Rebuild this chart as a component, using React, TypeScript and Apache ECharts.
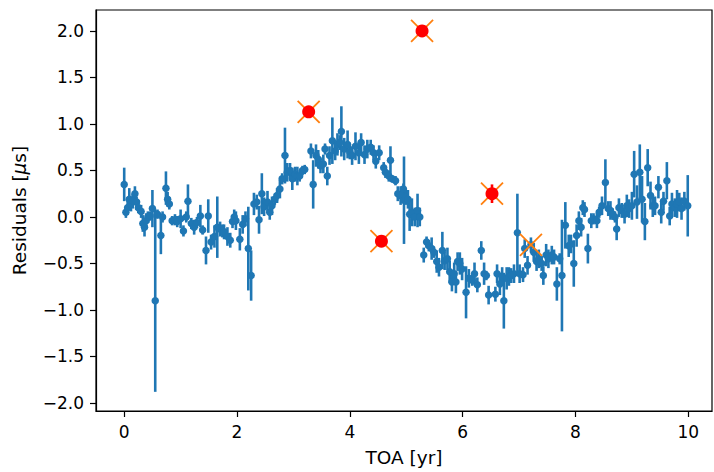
import React, { useEffect, useRef } from "react";
import * as echarts from "echarts";

const toaYr = [
  0.00, 0.03, 0.06, 0.09, 0.12, 0.15, 0.19, 0.22, 0.25, 0.30, 0.33, 0.36, 0.39, 0.42, 0.46, 0.50, 0.55, 0.59, 0.65, 0.68,
  0.74, 0.77, 0.80, 0.85, 0.90, 0.94, 1.00, 1.05, 1.10, 1.13, 1.19, 1.24, 1.29, 1.35, 1.39, 1.45, 1.49, 1.54, 1.60, 1.65,
  1.70, 1.74, 1.77, 1.83, 1.88, 1.92, 1.95, 1.98, 2.05, 2.10, 2.15, 2.20, 2.25, 2.30, 2.35, 2.39, 2.44, 2.48, 2.54, 2.58,
  2.62, 2.67, 2.71, 2.76, 2.80, 2.85, 2.89, 2.94, 2.98, 3.03, 3.07, 3.11, 3.16, 3.20, 3.31, 3.35, 3.40, 3.44, 3.48, 3.53,
  3.56, 3.60, 3.64, 3.69, 3.74, 3.78, 3.82, 3.85, 3.90, 3.96, 4.00, 4.04, 4.10, 4.16, 4.20, 4.26, 4.31, 4.37, 4.42, 4.46,
  4.52, 4.60, 4.63, 4.69, 4.72, 4.75, 4.81, 4.85, 4.90, 4.95, 4.96, 4.99, 5.03, 5.06, 5.10, 5.15, 5.20, 5.24, 5.31, 5.36,
  5.40, 5.45, 5.49, 5.54, 5.58, 5.64, 5.68, 5.73, 5.77, 5.81, 5.85, 5.88, 5.91, 5.95, 5.99, 6.06, 6.11, 6.17, 6.21, 6.26,
  6.33, 6.38, 6.42, 6.46, 6.58, 6.61, 6.66, 6.70, 6.73, 6.78, 6.82, 6.86, 6.91, 6.97, 7.01, 7.07, 7.10, 7.15, 7.21, 7.26,
  7.31, 7.35, 7.40, 7.43, 7.48, 7.52, 7.58, 7.62, 7.67, 7.72, 7.76, 7.82, 7.88, 7.92, 7.97, 8.02, 8.06, 8.10, 8.13, 8.16,
  8.22, 8.28, 8.32, 8.38, 8.42, 8.47, 8.53, 8.58, 8.62, 8.66, 8.70, 8.73, 8.77, 8.82, 8.87, 8.91, 8.95, 9.00, 9.04, 9.09,
  9.14, 9.18, 9.23, 9.28, 9.33, 9.37, 9.41, 9.47, 9.52, 9.56, 9.62, 9.67, 9.71, 9.76, 9.80, 9.84, 9.88, 9.93, 9.99,
];

const residUs = [
  0.35, 0.05, 0.10, 0.19, 0.14, 0.17, 0.25, 0.16, 0.10, 0.06, -0.07, -0.11, -0.04, 0.00, 0.01, 0.09, -0.90, 0.03, -0.20, 0.00,
  0.31, 0.19, 0.14, -0.04, -0.03, -0.05, -0.02, -0.15, 0.00, 0.17, -0.07, -0.11, -0.06, 0.01, -0.14, -0.36, 0.01, -0.27, -0.21, -0.11,
  -0.13, -0.15, -0.16, -0.21, -0.25, -0.05, 0.00, -0.04, -0.24, -0.08, -0.02, -0.34, -0.63, 0.14, 0.16, -0.03, 0.25, 0.11, 0.16, 0.05,
  0.12, 0.19, 0.23, 0.30, 0.41, 0.66, 0.48, 0.50, 0.41, 0.46, 0.44, 0.44, 0.50, 0.51, 0.71, 0.35, 0.66, 0.62, 0.55, 0.57,
  0.73, 0.44, 0.66, 0.82, 0.71, 0.78, 0.80, 0.92, 0.73, 0.78, 0.70, 0.66, 0.76, 0.69, 0.80, 0.67, 0.73, 0.75, 0.69, 0.60,
  0.69, 0.53, 0.48, 0.44, 0.61, 0.41, 0.39, 0.25, 0.23, 0.30, 0.18, 0.21, 0.19, 0.03, 0.05, 0.00, 0.07, 0.00, -0.41, -0.27,
  -0.31, -0.34, -0.38, -0.48, -0.54, -0.36, -0.47, -0.45, -0.59, -0.70, -0.61, -0.70, -0.48, -0.50, -0.56, -0.81, -0.66, -0.68, -0.61, -0.73,
  -0.36, -0.61, -0.63, -0.84, -0.83, -0.61, -0.72, -0.64, -0.90, -0.66, -0.64, -0.63, -0.61, -0.17, -0.61, -0.62, -0.34, -0.52, -0.30, -0.38,
  -0.48, -0.45, -0.50, -0.63, -0.41, -0.45, -0.41, -0.43, -0.72, -0.45, -0.63, -0.09, -0.31, -0.29, -0.50, -0.20, -0.04, -0.11, 0.10, 0.08,
  -0.34, -0.04, -0.02, -0.04, 0.05, 0.12, 0.37, 0.09, 0.07, 0.03, 0.00, -0.13, 0.10, 0.07, 0.03, 0.12, 0.09, 0.12, 0.46, 0.16,
  0.48, 0.19, -0.05, 0.53, 0.23, 0.12, 0.12, 0.32, 0.05, 0.17, 0.39, 0.01, 0.14, 0.10, 0.14, 0.16, 0.09, 0.17, 0.12,
];

const errUs = [
  0.18, 0.06, 0.08, 0.12, 0.08, 0.08, 0.08, 0.06, 0.06, 0.07, 0.09, 0.10, 0.08, 0.06, 0.05, 0.20, 0.98, 0.05, 0.20, 0.06,
  0.18, 0.08, 0.06, 0.05, 0.06, 0.06, 0.10, 0.06, 0.06, 0.18, 0.06, 0.08, 0.06, 0.12, 0.05, 0.15, 0.18, 0.08, 0.12, 0.33,
  0.08, 0.07, 0.08, 0.10, 0.08, 0.07, 0.08, 0.10, 0.12, 0.10, 0.08, 0.45, 0.27, 0.12, 0.08, 0.15, 0.22, 0.10, 0.12, 0.08,
  0.10, 0.06, 0.08, 0.10, 0.06, 0.30, 0.10, 0.08, 0.12, 0.08, 0.10, 0.06, 0.05, 0.05, 0.08, 0.26, 0.12, 0.10, 0.08, 0.10,
  0.06, 0.10, 0.10, 0.25, 0.10, 0.12, 0.08, 0.27, 0.12, 0.15, 0.08, 0.10, 0.15, 0.12, 0.10, 0.10, 0.10, 0.08, 0.08, 0.08,
  0.08, 0.06, 0.06, 0.06, 0.15, 0.04, 0.05, 0.08, 0.10, 0.06, 0.47, 0.08, 0.10, 0.18, 0.15, 0.10, 0.18, 0.10, 0.08, 0.06,
  0.06, 0.12, 0.06, 0.12, 0.10, 0.20, 0.10, 0.12, 0.12, 0.10, 0.12, 0.12, 0.10, 0.12, 0.12, 0.28, 0.10, 0.06, 0.12, 0.08,
  0.10, 0.12, 0.05, 0.10, 0.08, 0.10, 0.12, 0.10, 0.30, 0.12, 0.10, 0.08, 0.10, 0.42, 0.10, 0.08, 0.10, 0.10, 0.08, 0.10,
  0.10, 0.10, 0.08, 0.10, 0.12, 0.10, 0.10, 0.08, 0.18, 0.06, 0.60, 0.25, 0.12, 0.10, 0.25, 0.12, 0.10, 0.10, 0.08, 0.08,
  0.16, 0.08, 0.06, 0.08, 0.06, 0.10, 0.25, 0.08, 0.10, 0.06, 0.06, 0.12, 0.10, 0.08, 0.10, 0.12, 0.10, 0.15, 0.25, 0.18,
  0.30, 0.25, 0.20, 0.20, 0.15, 0.12, 0.10, 0.12, 0.12, 0.10, 0.20, 0.10, 0.12, 0.10, 0.15, 0.10, 0.12, 0.10, 0.33,
];

const outlierToa = [3.27, 4.56, 5.28, 6.52];
const outlierRes = [1.13, -0.26, 2.0, 0.25];
const outlierErr = [0.05, 0.06, 0.04, 0.1];

const flaggedToa = [3.27, 4.56, 5.28, 6.52, 7.21];
const flaggedRes = [1.13, -0.26, 2.0, 0.25, -0.3];

const xTicks = [0, 2, 4, 6, 8, 10];
const yTicks = [-2, -1.5, -1, -0.5, 0, 0.5, 1, 1.5, 2];

const BLUE = "#1f77b4";
const RED = "#ff0000";
const ORANGE = "#ff7f0e";
const FONT = "DejaVu Sans";

function errBarSeries(xs: number[], ys: number[], es: number[], color: string, z: number) {
  return {
    type: "custom",
    z,
    silent: true,
    clip: false,
    data: xs.map((x, i) => [x, ys[i] - es[i], ys[i] + es[i]]),
    encode: { x: 0, y: [1, 2] },
    renderItem: (params: any, api: any) => {
      const p1 = api.coord([api.value(0), api.value(1)]);
      const p2 = api.coord([api.value(0), api.value(2)]);
      return {
        type: "line",
        shape: { x1: p1[0], y1: p1[1], x2: p2[0], y2: p2[1] },
        style: { stroke: color, lineWidth: 2.6 },
      };
    },
  };
}

export default function App() {
  const ref = useRef<HTMLDivElement>(null);
  useEffect(() => {
    if (!ref.current) return;
    const chart = echarts.init(ref.current, null, { renderer: "svg" });
    chart.setOption({
      animation: false,
      backgroundColor: "#ffffff",
      grid: {
        left: 96,
        right: 2,
        top: 10,
        bottom: 59,
        show: true,
        borderColor: "#000",
        borderWidth: 1.2,
      },
      xAxis: {
        type: "value",
        min: -0.5,
        max: 10.42,
        name: "TOA [yr]",
        nameLocation: "middle",
        nameGap: 37,
        nameTextStyle: { fontFamily: FONT, fontSize: 18.5, color: "#000" },
        splitLine: { show: false },
        axisLine: { show: true, onZero: false, lineStyle: { color: "#000", width: 1.2 } },
        axisTick: { show: true, customValues: xTicks, length: 6, lineStyle: { color: "#000", width: 1.2 } },
        axisLabel: {
          customValues: xTicks,
          margin: 12,
          fontFamily: FONT,
          fontSize: 17,
          color: "#000",
          formatter: (v: number) => String(v),
        },
      },
      yAxis: {
        type: "value",
        min: -2.086,
        max: 2.225,
        name: "Residuals [{i|\u03bc}s]",
        nameLocation: "middle",
        nameGap: 67,
        nameRotate: 90,
        nameTextStyle: {
          fontFamily: FONT,
          fontSize: 18.5,
          color: "#000",
          rich: { i: { fontFamily: FONT, fontSize: 18.5, fontStyle: "italic", color: "#000" } },
        },
        splitLine: { show: false },
        axisLine: { show: true, onZero: false, lineStyle: { color: "#000", width: 1.2 } },
        axisTick: { show: true, customValues: yTicks, length: 6, lineStyle: { color: "#000", width: 1.2 } },
        axisLabel: {
          customValues: yTicks,
          margin: 12,
          fontFamily: FONT,
          fontSize: 17,
          color: "#000",
          formatter: (v: number) => v.toFixed(1).replace("-", "\u2212"),
        },
      },
      series: [
        errBarSeries(toaYr, residUs, errUs, BLUE, 2),
        {
          type: "scatter",
          z: 3,
          silent: true,
          symbol: "circle",
          symbolSize: 7.5,
          itemStyle: { color: BLUE, opacity: 1, borderWidth: 0 },
          data: toaYr.map((x, i) => [x, residUs[i]]),
        },
        {
          type: "custom",
          z: 4,
          silent: true,
          clip: false,
          data: flaggedToa.map((x, i) => [x, flaggedRes[i]]),
          encode: { x: 0, y: 1 },
          renderItem: (params: any, api: any) => {
            const p = api.coord([api.value(0), api.value(1)]);
            const h = 11;
            const st = { stroke: ORANGE, lineWidth: 1.8 };
            return {
              type: "group",
              children: [
                { type: "line", shape: { x1: p[0] - h, y1: p[1] - h, x2: p[0] + h, y2: p[1] + h }, style: st },
                { type: "line", shape: { x1: p[0] - h, y1: p[1] + h, x2: p[0] + h, y2: p[1] - h }, style: st },
              ],
            };
          },
        },
        errBarSeries(outlierToa, outlierRes, outlierErr, RED, 5),
        {
          type: "scatter",
          z: 6,
          silent: true,
          symbol: "circle",
          symbolSize: 13,
          itemStyle: { color: RED, opacity: 1, borderWidth: 0 },
          data: outlierToa.map((x, i) => [x, outlierRes[i]]),
        },
      ],
    });
    return () => chart.dispose();
  }, []);
  return (
    <div
      ref={ref}
      style={{ position: "absolute", left: 0, top: 0, width: 714, height: 472 }}
    />
  );
}
